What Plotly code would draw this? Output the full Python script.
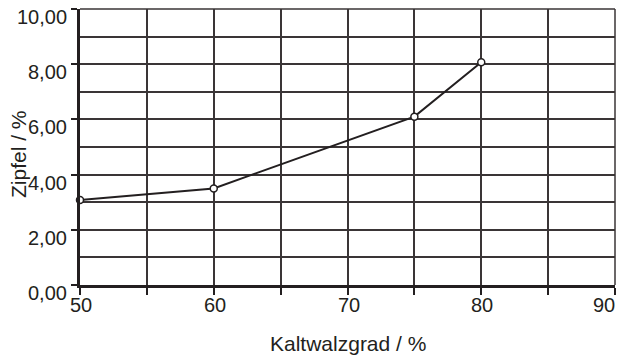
import plotly.graph_objects as go

# Zipfelbildung in Abhängigkeit vom Kaltwalzgrad
kaltwalzgrad = [50, 60, 75, 80]
zipfel = [3.08, 3.50, 6.10, 8.07]

x_tick_vals = [50, 60, 70, 80, 90]
x_tick_text = ["50", "60", "70", "80", "90"]
y_tick_vals = [0, 2, 4, 6, 8, 10]
y_tick_text = ["0,00", "2,00", "4,00", "6,00", "8,00", "10,00"]

FONT = "Liberation Sans"
INK = "#231f20"
GRID = "#3a3536"
TICK_SIZE = 20
TITLE_SIZE = 21

fig = go.Figure()
fig.add_trace(go.Scatter(
    x=kaltwalzgrad, y=zipfel, mode="lines+markers",
    line=dict(color=INK, width=2),
    marker=dict(symbol="circle", size=7, color="white",
                line=dict(color=INK, width=1.5)),
    showlegend=False, cliponaxis=False,
))

# x tick labels; the last one is right-aligned to stay inside the page
for i, (v, t) in enumerate(zip(x_tick_vals, x_tick_text)):
    last = i == len(x_tick_vals) - 1
    fig.add_annotation(
        x=v, y=0, xref="x", yref="y", text=t, showarrow=False,
        xanchor="right" if last else "center", yanchor="middle",
        xshift=2 if last else 1, yshift=-20,
        font=dict(family=FONT, size=TICK_SIZE, color=INK),
    )

# y tick labels, set slightly below their tick marks
for v, t in zip(y_tick_vals, y_tick_text):
    fig.add_annotation(
        x=0, y=v, xref="paper", yref="y", text=t, showarrow=False,
        xanchor="right", yanchor="middle", xshift=-11, yshift=-8,
        font=dict(family=FONT, size=TICK_SIZE, color=INK),
    )

# axis titles
fig.add_annotation(
    x=0.5, y=0, xref="paper", yref="paper", text="Kaltwalzgrad / %",
    showarrow=False, xanchor="center", yanchor="middle", yshift=-58,
    font=dict(family=FONT, size=TITLE_SIZE, color=INK),
)
fig.add_annotation(
    x=0, y=0.5, xref="paper", yref="paper", text="Zipfel / %",
    showarrow=False, xanchor="center", yanchor="middle", textangle=-90,
    xshift=-62, yshift=-7,
    font=dict(family=FONT, size=TITLE_SIZE, color=INK),
)

# top and right frame lines (grid lines at the range ends)
fig.add_shape(type="line", xref="paper", yref="paper", x0=0, x1=1, y0=1, y1=1,
              line=dict(color=GRID, width=1.5))
fig.add_shape(type="line", xref="paper", yref="paper", x0=1, x1=1, y0=0, y1=1,
              line=dict(color=GRID, width=1.5))

fig.update_xaxes(
    range=[50, 90], tickvals=x_tick_vals, showticklabels=False,
    ticks="outside", ticklen=7, tickwidth=2, tickcolor=INK,
    showgrid=True, gridcolor=GRID, gridwidth=1.5,
    minor=dict(dtick=5, tick0=50, ticks="outside", ticklen=7, tickwidth=2,
               tickcolor=INK, showgrid=True, gridcolor=GRID, gridwidth=1.5),
    showline=True, linecolor=INK, linewidth=2.5,
    zeroline=False, fixedrange=True,
)
fig.update_yaxes(
    range=[0, 10], tickvals=y_tick_vals, showticklabels=False,
    ticks="outside", ticklen=6, tickwidth=2, tickcolor=INK,
    showgrid=True, gridcolor=GRID, gridwidth=1.5,
    minor=dict(dtick=1, tick0=0, showgrid=True, gridcolor=GRID, gridwidth=1.5),
    showline=True, linecolor=INK, linewidth=2.5,
    zeroline=False, fixedrange=True,
)

fig.update_layout(
    width=617, height=356,
    margin=dict(l=80, r=2, t=9, b=71, autoexpand=False),
    paper_bgcolor="white", plot_bgcolor="white",
    font=dict(family=FONT, color=INK),
)

fig.write_html("out.html")
